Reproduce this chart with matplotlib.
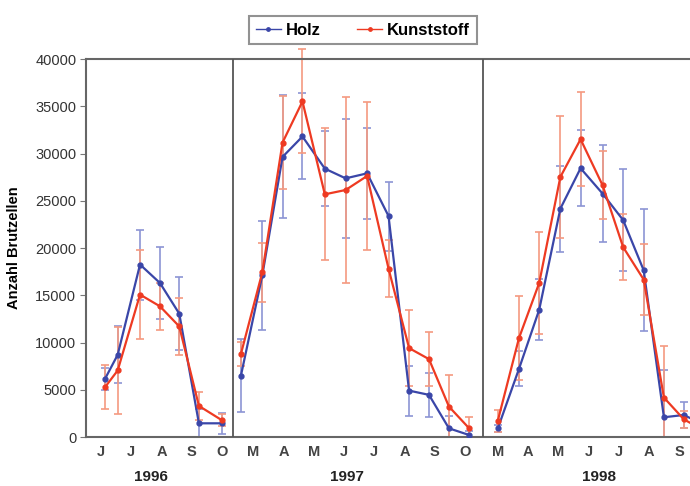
import numpy as np
import matplotlib.pyplot as plt

plt.rcParams['font.family'] = ['Liberation Sans', 'DejaVu Sans']

# sampling dates as month-of-year decimals, one list per season
years = ['1996', '1997', '1998']
seg_start = [6.0, 2.82, 3.0]      # first month shown per season
seg_end = [10.87, 11.10, 11.5]    # last month shown per season
month_labels = [['J', 'J', 'A', 'S', 'O'],
                ['M', 'A', 'M', 'J', 'J', 'A', 'S', 'O'],
                ['M', 'A', 'M', 'J', 'J', 'A', 'S']]
month_first = [6, 3, 3]
year_label_month = [8.15, 6.6, 6.85]

t96 = [6.63, 7.05, 7.79, 8.45, 9.09, 9.74, 10.49]
t97 = [3.08, 3.79, 4.46, 5.12, 5.86, 6.55, 7.26, 7.97, 8.65, 9.31, 9.97, 10.64]
t98 = [3.49, 4.19, 4.86, 5.56, 6.23, 6.96, 7.64, 8.32, 8.99, 9.65, 10.31]

holz96 = [6150, 8700, 18250, 16300, 13050, 1450, 1450]
holz96_err = [1200, 3000, 3700, 3800, 3850, 1500, 1100]
kunst96 = [5270, 7040, 15070, 13830, 11700, 3290, 1800]
kunst96_err = [2300, 4560, 4700, 2500, 3000, 1450, 600]

holz97 = [6470, 17120, 29640, 31800, 28400, 27370, 27900, 23380, 4910, 4460, 920, 210]
holz97_err = [3850, 5760, 6500, 4550, 4000, 6300, 4800, 3650, 2650, 2300, 1300, 400]
kunst97 = [8770, 17430, 31160, 35510, 25680, 26140, 27620, 17820, 9410, 8240, 3220, 920]
kunst97_err = [1300, 3150, 4900, 5500, 7000, 9800, 7850, 3000, 4050, 2850, 3350, 1250]

holz98 = [920, 7210, 13470, 24160, 28440, 25750, 22950, 17640, 2090, 2330, 1300]
holz98_err = [400, 1850, 3200, 4560, 4030, 5100, 5360, 6450, 5000, 1400, 800]
kunst98 = [1730, 10470, 16300, 27520, 31510, 26630, 20090, 16660, 4170, 1870, 700]
kunst98_err = [1150, 4400, 5400, 6500, 5000, 3600, 3500, 3750, 5500, 900, 500]

times = [t96, t97, t98]
holz = [holz96, holz97, holz98]
holz_err = [holz96_err, holz97_err, holz98_err]
kunst = [kunst96, kunst97, kunst98]
kunst_err = [kunst96_err, kunst97_err, kunst98_err]

# each season is laid out one after the other on a common axis
offsets = np.concatenate([[0], np.cumsum(np.array(seg_end) - np.array(seg_start))])

fig = plt.figure(figsize=(6.9, 4.86), dpi=100)
ax = fig.add_axes([0.1246, 0.1008, 0.919, 0.7778])

blue = '#3a46a8'
red = '#ee3a22'
blue_err = '#8c95d4'
red_err = '#f59a80'

for i in range(3):
    x = offsets[i] + np.array(times[i]) - seg_start[i]
    for vals, errs, c, ce, lab in [(holz[i], holz_err[i], blue, blue_err, 'Holz'),
                                   (kunst[i], kunst_err[i], red, red_err, 'Kunststoff')]:
        v = np.array(vals, dtype=float)
        e = np.array(errs, dtype=float)
        lower = np.minimum(e, v)
        eb = ax.errorbar(x, v, yerr=[lower, e], fmt='none', ecolor=ce,
                         elinewidth=1.2, capsize=3, capthick=1.2, zorder=2)
        for art in eb.lines[1] + eb.lines[2]:
            art.set_clip_on(False)
        ax.plot(x, v, '-o', color=c, lw=1.6, ms=3.5, zorder=3,
                label=lab if i == 0 else None)

# separators between seasons
for s in offsets[1:3]:
    ax.axvline(s, color='#555555', lw=1.3, zorder=4)

# month ticks and year labels
ticks, labels = [], []
for i in range(3):
    for k, m in enumerate(month_labels[i]):
        ticks.append(offsets[i] + month_first[i] + k + 0.5 - seg_start[i])
        labels.append(m)
    ax.text(offsets[i] + year_label_month[i] - seg_start[i], -0.105, years[i],
            transform=ax.get_xaxis_transform(), ha='center', va='center',
            fontsize=11, fontweight='bold', color='#222222')
ax.set_xticks(ticks)
ax.set_xticklabels(labels, fontsize=10.5, fontweight='bold', color='#444444')
ax.tick_params(axis='x', length=0, pad=6)

ax.set_xlim(0, 21)
ax.set_ylim(0, 40000)
ax.set_yticks(np.arange(0, 40001, 5000))
ax.tick_params(axis='y', direction='out', length=4, color='#777777',
               labelsize=10.5, labelcolor='#333333', pad=3)
ax.set_ylabel('Anzahl Brutzellen', fontsize=10.5, fontweight='bold')
ax.yaxis.set_label_coords(-0.1025, 0.5)

for side in ['left', 'bottom', 'top', 'right']:
    ax.spines[side].set_color('#666666')
    ax.spines[side].set_linewidth(1.5)

leg = fig.legend(loc='center', bbox_to_anchor=(363 / 690, 1 - 30 / 486), ncol=2,
                 frameon=True, fancybox=False, edgecolor='#777777',
                 prop={'weight': 'bold', 'size': 12}, handlelength=1.5,
                 handletextpad=0.3, columnspacing=2.2, borderpad=0.4,
                 markerscale=0.7)
leg.get_frame().set_linewidth(1.5)
for h in leg.get_lines():
    h.set_linewidth(1.0)

fig.savefig('out.png', dpi=100)
